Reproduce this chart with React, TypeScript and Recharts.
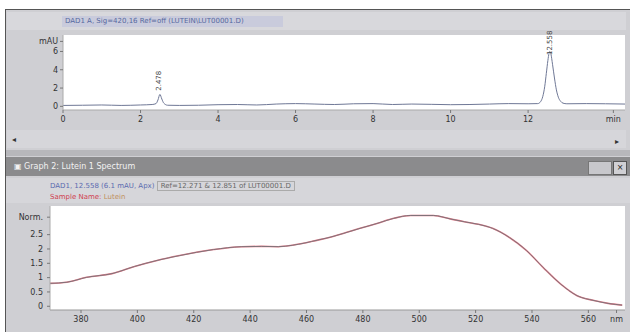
import React from 'react'
import { LineChart, Line, XAxis, YAxis, ReferenceDot } from 'recharts'

// chromatogram (DAD1 A, 420 nm)
const rtMinutes = [
  0, 0.5, 1, 1.5, 2, 2.3, 2.4, 2.45, 2.5, 2.55, 2.6, 2.7, 3, 3.5, 4, 4.5, 5, 5.5, 6, 6.5,
  7, 7.5, 8, 8.5, 9, 9.5, 10, 10.5, 11, 11.5, 12, 12.25, 12.32, 12.38, 12.43, 12.47, 12.51,
  12.54, 12.56, 12.59, 12.63, 12.68, 12.73, 12.78, 12.84, 12.9, 13, 13.5, 14, 14.5,
]
const signalMau = [
  0.1, 0.12, 0.15, 0.1, 0.15, 0.2, 0.3, 0.7, 1.3, 0.8, 0.35, 0.12, 0.1, 0.12, 0.18, 0.2, 0.15, 0.25, 0.3, 0.25,
  0.2, 0.28, 0.3, 0.2, 0.25, 0.22, 0.18, 0.2, 0.25, 0.3, 0.28, 0.3, 0.5, 1.1, 2.2, 3.6, 5.0,
  5.8, 6.0, 5.7, 4.6, 3.1, 1.8, 1.0, 0.55, 0.35, 0.28, 0.3, 0.28, 0.25,
]
const rtTicks = [0, 2, 4, 6, 8, 10, 12, 14.2]
const mauTicks = [0, 2, 4, 6, 7.1]
const peakLabels = [
  { rt: 2.47, y: 2.8, text: '2.478' },
  { rt: 12.56, y: 6.95, text: '12.558' },
]

// UV-Vis spectrum at apex
const wavelengths = [
  369, 375, 382, 391, 399, 407, 415, 427, 437, 444, 450, 455, 464, 468, 473, 479, 485, 491,
  497, 505, 511, 516, 521, 526, 532, 538, 544, 550, 556, 562, 567, 572,
]
const absorbance = [
  0.8, 0.84, 1.01, 1.14, 1.39, 1.6, 1.77, 1.98, 2.08, 2.09, 2.08, 2.13, 2.31, 2.4, 2.54, 2.72, 2.89, 3.07,
  3.17, 3.17, 3.05, 2.95, 2.86, 2.72, 2.4, 1.95, 1.35, 0.79, 0.37, 0.2, 0.1, 0.04,
]
const nmTicks = [380, 400, 420, 440, 460, 480, 500, 520, 540, 560, 570]
const normTicks = [0, 0.5, 1, 1.5, 2, 2.5, 3.11]

const chromData = rtMinutes.map((t, i) => ({ t, v: signalMau[i] }))
const specData = wavelengths.map((w, i) => ({ w, a: absorbance[i] }))

const tickStyle = { fontSize: 8, fill: '#333', fontFamily: 'DejaVu Sans' }
const font = 'DejaVu Sans, sans-serif'

const box = (l: number, t: number, w: number, h: number, bg: string): React.CSSProperties => ({
  position: 'absolute', left: l, top: t, width: w, height: h, background: bg,
})

const rotatedLabel = (text: string) => (props: any) => {
  const vb = props.viewBox || {}
  const cx = (vb.x ?? 0) + (vb.width ?? 0) / 2
  const cy = (vb.y ?? 0) + (vb.height ?? 0) / 2
  return (
    <text x={cx} y={cy} transform={`rotate(-90 ${cx} ${cy})`} textAnchor="middle" dominantBaseline="central"
      fontSize={7} fontFamily="DejaVu Sans" fill="#444">{text}</text>
  )
}

export default function App() {
  return (
    <div style={{ position: 'fixed', left: 0, top: 0, width: 630, height: 332, background: '#fff', overflow: 'hidden', fontFamily: font }}>
      {/* window frame */}
      <div style={{ ...box(5, 9, 625, 323, '#cfcfd3'), borderLeft: '1px solid #555', borderTop: '1px solid #555' }} />
      {/* top title band */}
      <div style={box(7, 12, 619, 18, '#d8d8dc')} />
      <div style={{ ...box(62, 16, 218, 11, '#c9cbdc'), fontSize: 7, color: '#5668a0', lineHeight: '11px', paddingLeft: 3, whiteSpace: 'nowrap' }}>
        DAD1 A, Sig=420,16 Ref=off (LUTEIN\LUT00001.D)
      </div>
      {/* top plot background */}
      <div style={box(63, 35, 562, 75, '#fff')} />
      {/* scroll band */}
      <div style={box(7, 130, 619, 18, '#d6d6da')} />
      <div style={{ position: 'absolute', left: 12, top: 135, fontSize: 8, color: '#333' }}>◂</div>
      <div style={{ position: 'absolute', left: 615, top: 137, fontSize: 8, color: '#333' }}>▸</div>
      {/* separator */}
      <div style={box(6, 150, 624, 6, '#b7b7bb')} />
      {/* bottom title bar */}
      <div style={{ ...box(6, 157, 624, 19, '#8b8b8d'), fontSize: 8, color: '#f2f2f2', lineHeight: '19px', paddingLeft: 8, whiteSpace: 'nowrap' }}>
        ▣ Graph 2: Lutein 1 Spectrum
      </div>
      <div style={{ ...box(588, 161, 22, 12, '#c8c8cc'), border: '1px solid #777' }} />
      <div style={{ ...box(613, 161, 12, 12, '#d0d0d4'), border: '1px solid #555', fontSize: 8, lineHeight: '12px', textAlign: 'center', color: '#222' }}>×</div>
      {/* legend band */}
      <div style={box(6, 178, 624, 25, '#d6d6da')} />
      <div style={{ position: 'absolute', left: 50, top: 182, fontSize: 7, color: '#5a6ab0', whiteSpace: 'nowrap' }}>
        DAD1, 12.558 (6.1 mAU, Apx) <span style={{ color: '#666', border: '1px solid #aaa', padding: '0 3px' }}>Ref=12.271 &amp; 12.851 of LUT00001.D</span>
      </div>
      <div style={{ position: 'absolute', left: 50, top: 193, fontSize: 7, color: '#d04050', whiteSpace: 'nowrap' }}>
        Sample Name: <span style={{ color: '#c09060' }}>Lutein</span>
      </div>
      {/* bottom plot background */}
      <div style={box(50, 206, 575, 104, '#fff')} />

      <div style={{ position: 'absolute', left: 0, top: 0 }}>
        <LineChart width={630} height={130} data={chromData} margin={{ top: 35, right: 5, left: 0, bottom: 0 }}>
          <XAxis dataKey="t" type="number" domain={[0, 14.5]} ticks={rtTicks} interval={0} allowDataOverflow height={20}
            tick={tickStyle} tickSize={3} tickMargin={3} axisLine={{ stroke: '#aaa' }} tickLine={{ stroke: '#777' }}
            tickFormatter={(v: number) => (v === 14.2 ? 'min' : String(v))} />
          <YAxis type="number" domain={[-0.4, 7.8]} ticks={mauTicks} interval={0} allowDataOverflow width={63}
            tick={tickStyle} tickSize={3} tickMargin={2} axisLine={{ stroke: '#aaa' }} tickLine={{ stroke: '#777' }}
            tickFormatter={(v: number) => (v === 7.1 ? 'mAU' : String(v))} />
          <Line dataKey="v" type="monotone" stroke="#6f7896" strokeWidth={1} dot={false} isAnimationActive={false} />
          {peakLabels.map(p => (
            <ReferenceDot key={p.text} x={p.rt} y={p.y} r={0} stroke="none" label={rotatedLabel(p.text)} />
          ))}
        </LineChart>
      </div>

      <div style={{ position: 'absolute', left: 0, top: 200 }}>
        <LineChart width={630} height={132} data={specData} margin={{ top: 6, right: 5, left: 0, bottom: 0 }}>
          <XAxis dataKey="w" type="number" domain={[369, 573]} ticks={nmTicks} interval={0} allowDataOverflow height={22}
            tick={tickStyle} tickSize={3} tickMargin={3} axisLine={{ stroke: '#999' }} tickLine={{ stroke: '#777' }}
            tickFormatter={(v: number) => (v === 570 ? 'nm' : String(v))} />
          <YAxis type="number" domain={[-0.13, 3.5]} ticks={normTicks} interval={0} allowDataOverflow width={50}
            tick={tickStyle} tickSize={3} tickMargin={4} axisLine={{ stroke: '#aaa' }} tickLine={{ stroke: '#777' }}
            tickFormatter={(v: number) => (v === 3.11 ? 'Norm.' : String(v))} />
          <Line dataKey="a" type="monotone" stroke="#e8808e" strokeWidth={1.6} dot={false} isAnimationActive={false} />
          <Line dataKey="a" type="monotone" stroke="#707076" strokeWidth={0.9} dot={false} isAnimationActive={false} />
        </LineChart>
      </div>
    </div>
  )
}
